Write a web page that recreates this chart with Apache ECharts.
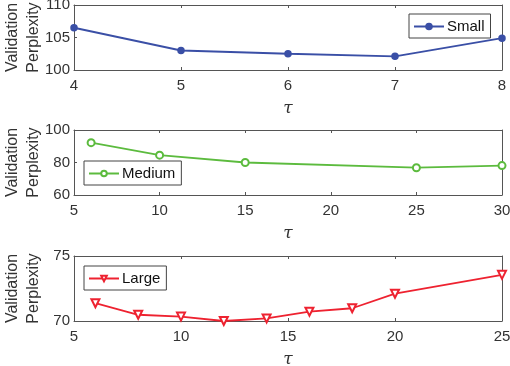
<!DOCTYPE html>
<html>
<head>
<meta charset="utf-8">
<script src="https://cdn.jsdelivr.net/npm/echarts@6/dist/echarts.min.js"></script>
<style>
  html, body { margin: 0; padding: 0; background: #fff; }
  #chart { width: 510px; height: 366px; }
</style>
</head>
<body>
<div id="chart"></div>
<script>
var smallTau = [4, 5, 6, 7, 8];
var smallPpl = [106.5, 103.0, 102.5, 102.1, 104.9];
var mediumTau = [6, 10, 15, 25, 30];
var mediumPpl = [92.2, 84.5, 80.0, 76.8, 78.1];
var largeTau = [6, 8, 10, 12, 14, 16, 18, 20, 25];
var largePpl = [71.37, 70.48, 70.34, 70.0, 70.2, 70.72, 70.98, 72.1, 73.55];

var panels = [
    {name: 'Small', tau: smallTau, ppl: smallPpl, xMin: 4, xMax: 8, xInt: 1, yMin: 100, yMax: 110, yInt: 5,
        top: 5, color: '#3a4fa6', symbol: 'circle', size: 6, rotate: 0, legend: {left: 409, top: 14}},
    {name: 'Medium', tau: mediumTau, ppl: mediumPpl, xMin: 5, xMax: 30, xInt: 5, yMin: 60, yMax: 100, yInt: 20,
        top: 130, color: '#5cbb3e', symbol: 'emptyCircle', size: 7, rotate: 0, legend: {left: 84, top: 161}},
    {name: 'Large', tau: largeTau, ppl: largePpl, xMin: 5, xMax: 25, xInt: 5, yMin: 70, yMax: 75, yInt: 5,
        top: 256, color: '#ee2230', symbol: 'emptyTriangle', size: 8, rotate: 180, legend: {left: 84, top: 266}}
];

var axisColor = '#555';
var textColor = '#333';
var fontFamily = 'Liberation Sans, Arial, sans-serif';

var grids = [], xAxes = [], yAxes = [], series = [], legends = [];
panels.forEach(function (p, i) {
    grids.push({left: 74, width: 428, top: p.top, height: 65, outerBoundsMode: 'none', containLabel: false});
    // bottom x axis with labels
    xAxes.push({
        type: 'value', gridIndex: i, min: p.xMin, max: p.xMax, interval: p.xInt,
        name: 'τ', nameLocation: 'middle', nameGap: 30, nameMoveOverlap: false,
        nameTextStyle: {fontSize: 17, fontStyle: 'italic', color: textColor, fontFamily: 'DejaVu Serif'},
        axisLine: {show: true, lineStyle: {color: axisColor, width: 1}},
        axisTick: {show: true, inside: true, length: 3, lineStyle: {color: axisColor}},
        axisLabel: {fontSize: 15, color: textColor, fontFamily: fontFamily, margin: 8},
        splitLine: {show: false}
    });
    // top x axis (box)
    xAxes.push({
        type: 'value', gridIndex: i, position: 'top', min: p.xMin, max: p.xMax, interval: p.xInt,
        axisLine: {show: true, lineStyle: {color: axisColor, width: 1}},
        axisTick: {show: true, inside: true, length: 3, lineStyle: {color: axisColor}},
        axisLabel: {show: false}, splitLine: {show: false}
    });
    yAxes.push({
        type: 'value', gridIndex: i, min: p.yMin, max: p.yMax, interval: p.yInt,
        name: 'Validation\nPerplexity', nameLocation: 'middle', nameGap: 30, nameRotate: 90,
        nameMoveOverlap: false,
        nameTextStyle: {fontSize: 16, lineHeight: 21, color: textColor, fontFamily: fontFamily},
        axisLine: {show: true, lineStyle: {color: axisColor, width: 1}},
        axisTick: {show: true, inside: true, length: 3, lineStyle: {color: axisColor}},
        axisLabel: {fontSize: 15, color: textColor, fontFamily: fontFamily, margin: 4},
        splitLine: {show: false}
    });
    yAxes.push({
        type: 'value', gridIndex: i, position: 'right', min: p.yMin, max: p.yMax, interval: p.yInt,
        axisLine: {show: true, lineStyle: {color: axisColor, width: 1}},
        axisTick: {show: true, inside: true, length: 3, lineStyle: {color: axisColor}},
        axisLabel: {show: false}, splitLine: {show: false}
    });
    series.push({
        name: p.name, type: 'line', xAxisIndex: i * 2, yAxisIndex: i * 2,
        data: p.tau.map(function (t, k) { return [t, p.ppl[k]]; }),
        symbol: p.symbol, symbolSize: p.size, symbolRotate: p.rotate,
        lineStyle: {color: p.color, width: 1.8},
        itemStyle: {color: p.color, borderColor: p.color, borderWidth: 1.5},
        animation: false
    });
    legends.push({
        data: [p.name], left: p.legend.left, top: p.legend.top,
        orient: 'horizontal', itemWidth: 30, itemHeight: 7, itemGap: 4,
        symbolRotate: p.rotate,
        padding: [5, 6, 4, 4],
        borderColor: '#444', borderWidth: 1, backgroundColor: '#fff',
        textStyle: {fontSize: 15, color: '#111', fontFamily: fontFamily, padding: [0, 0, 0, -2]}
    });
});

var myChart = echarts.init(document.getElementById('chart'));
var option = {
    animation: false,
    backgroundColor: '#fff',
    grid: grids,
    xAxis: xAxes,
    yAxis: yAxes,
    legend: legends,
    series: series
};
myChart.setOption(option, true);
</script>
</body>
</html>
